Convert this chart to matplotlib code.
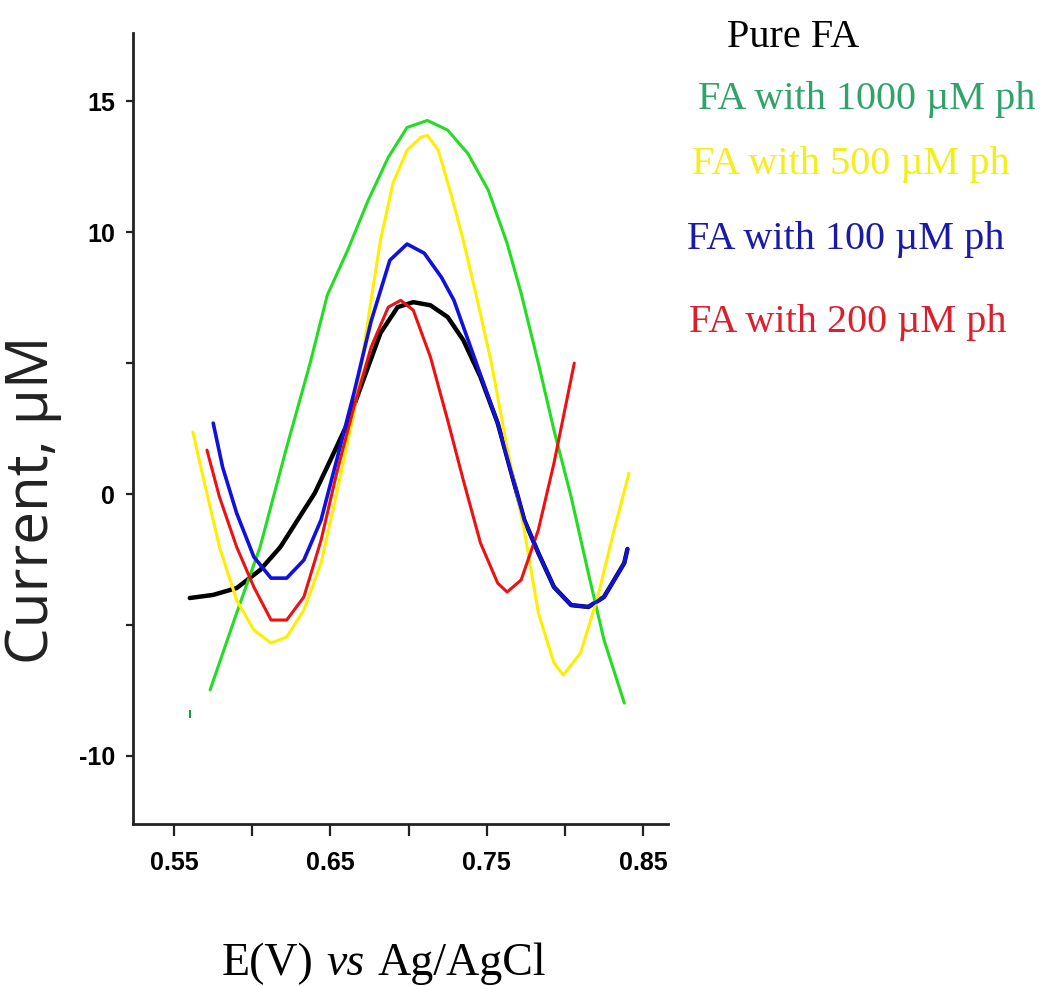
import matplotlib
matplotlib.use("Agg")
import matplotlib.pyplot as plt
import numpy as np

# potential (V) and current readings for each trace
pure_x = [0.560, 0.575, 0.590, 0.605, 0.618, 0.629, 0.640, 0.650, 0.661, 0.671, 0.682,
          0.693, 0.703, 0.714, 0.725, 0.735, 0.746, 0.757, 0.774, 0.783, 0.793, 0.804,
          0.815, 0.825, 0.838, 0.840]
pure_y = [-3.97, -3.85, -3.59, -2.90, -2.02, -0.99, 0.04, 1.30, 2.71, 4.35, 6.15,
          7.14, 7.33, 7.21, 6.76, 5.88, 4.47, 2.71, -0.99, -2.25, -3.55, -4.24,
          -4.31, -3.93, -2.63, -2.10]

ph1000_x = [0.573, 0.590, 0.605, 0.622, 0.637, 0.648, 0.661, 0.674, 0.687, 0.699, 0.712,
            0.725, 0.738, 0.751, 0.763, 0.772, 0.783, 0.793, 0.804, 0.815, 0.825, 0.838]
ph1000_y = [-7.48, -4.54, -2.02, 1.79, 5.00, 7.60, 9.31, 11.20, 12.86, 14.00, 14.27,
            13.90, 13.00, 11.60, 9.58, 7.67, 5.00, 2.44, -0.11, -3.02, -5.57, -7.98]
ph1000_dot_x = [0.560]
ph1000_dot_y = [-8.4]

ph500_x = [0.562, 0.569, 0.579, 0.590, 0.601, 0.612, 0.622, 0.633, 0.644, 0.654, 0.665,
           0.676, 0.682, 0.690, 0.699, 0.708, 0.712, 0.719, 0.727, 0.735, 0.744, 0.753,
           0.763, 0.774, 0.783, 0.793, 0.799, 0.810, 0.821, 0.831, 0.841]
ph500_y = [2.37, 0.53, -2.02, -4.05, -5.19, -5.69, -5.46, -4.43, -2.63, 0.04, 3.09,
           7.40, 9.69, 11.87, 13.13, 13.63, 13.70, 13.13, 11.49, 9.69, 7.40, 5.00,
           1.79, -1.37, -4.54, -6.45, -6.91, -6.07, -3.93, -1.49, 0.80]

ph100_x = [0.575, 0.581, 0.590, 0.601, 0.612, 0.622, 0.633, 0.644, 0.654, 0.665, 0.676,
           0.688, 0.699, 0.710, 0.721, 0.729, 0.757, 0.774, 0.783, 0.793, 0.804, 0.815,
           0.825, 0.838, 0.840]
ph100_y = [2.71, 1.03, -0.73, -2.40, -3.21, -3.21, -2.52, -0.99, 1.30, 3.85, 6.60,
           8.93, 9.55, 9.20, 8.28, 7.40, 2.71, -0.99, -2.25, -3.55, -4.24, -4.31,
           -3.93, -2.63, -2.10]

ph200_x = [0.571, 0.579, 0.590, 0.601, 0.612, 0.622, 0.633, 0.644, 0.654, 0.665, 0.676,
           0.687, 0.695, 0.703, 0.714, 0.725, 0.735, 0.746, 0.757, 0.763, 0.772, 0.783,
           0.793, 0.806]
ph200_y = [1.68, -0.11, -2.02, -3.55, -4.81, -4.81, -3.93, -1.76, 0.80, 3.32, 5.61,
           7.14, 7.40, 7.02, 5.23, 2.82, 0.53, -1.87, -3.40, -3.74, -3.28, -1.37,
           1.18, 5.00]

legend_labels = ["Pure FA", "FA with 1000 \u00b5M ph", "FA with 500 \u00b5M ph",
                 "FA with 100 \u00b5M ph", "FA with 200 \u00b5M ph"]
x_major = [0.55, 0.60, 0.65, 0.70, 0.75, 0.80, 0.85]
x_labels = ["0.55", "", "0.65", "", "0.75", "", "0.85"]
y_major = [15, 10, 5, 0, -5, -10]
y_labels = ["15", "10", "", "0", "", "-10"]

fig = plt.figure(figsize=(10.45, 9.86), dpi=100)
ax = fig.add_axes([0.1273, 0.1643, 0.512, 0.802])

kw = dict(solid_joinstyle="round", solid_capstyle="round")
ax.plot(pure_x, pure_y, color="black", lw=3.2, zorder=2, **kw)
ax.plot(ph1000_x, ph1000_y, color="#22dd22", lw=2.2, zorder=3, **kw)
ax.plot(ph1000_dot_x, ph1000_dot_y, color="#1a9a4a", marker="|", ms=6, mew=1.5, ls="none")
ax.plot(ph500_x, ph500_y, color="#ffee00", lw=2.2, zorder=3, **kw)
ax.plot(ph200_x, ph200_y, color="#ee1111", lw=2.2, zorder=4, **kw)
ax.plot(ph100_x, ph100_y, color="#1111dd", lw=2.6, zorder=5, **kw)

ax.set_xlim(0.5237, 0.866)
ax.set_ylim(-12.6, 17.6)

for s in ["top", "right"]:
    ax.spines[s].set_visible(False)
for s in ["left", "bottom"]:
    ax.spines[s].set_linewidth(2.0)
    ax.spines[s].set_color("#222222")

tick_font = dict(family=["Liberation Sans", "DejaVu Sans"], weight="bold", size=18)
ax.set_xticks(x_major)
ax.set_xticklabels(x_labels, **tick_font)
ax.set_yticks(y_major)
ax.set_yticklabels(y_labels, **tick_font)
ax.tick_params(axis="x", direction="out", length=8.5, width=1.6, color="#222222", pad=11)
ax.tick_params(axis="y", direction="out", length=5, width=1.6, color="#222222", pad=8)

ax.set_ylabel("Current, \u00b5M", family=["Open Sans", "DejaVu Sans"], size=42,
              color="#222222")
ax.yaxis.set_label_coords(-0.132, 0.41)

# x label: upright, italic "vs", upright, laid out one after another
renderer = fig.canvas.get_renderer()
parts = [("E(V)", "normal"), ("vs", "italic"), ("Ag/AgCl", "normal")]
x0 = 222
gap = 13
for txt, sty in parts:
    t = fig.text(x0 / 1045, 0.011, txt, family="Liberation Serif", style=sty, size=33,
                 ha="left", va="baseline")
    bb = t.get_window_extent(renderer)
    x0 = bb.x1 + gap

legend_colors = ["black", "#2ea36a", "#f2ef1a", "#1a1aa8", "#d9202e"]
legend_pos = [(0.759, 0.962), (0.829, 0.899), (0.814, 0.833), (0.809, 0.757), (0.811, 0.673)]
for lab, col, (lx, ly) in zip(legend_labels, legend_colors, legend_pos):
    fig.text(lx, ly, lab, color=col, family="Liberation Serif", size=29,
             ha="center", va="center")

fig.savefig("out.png", dpi=100)
